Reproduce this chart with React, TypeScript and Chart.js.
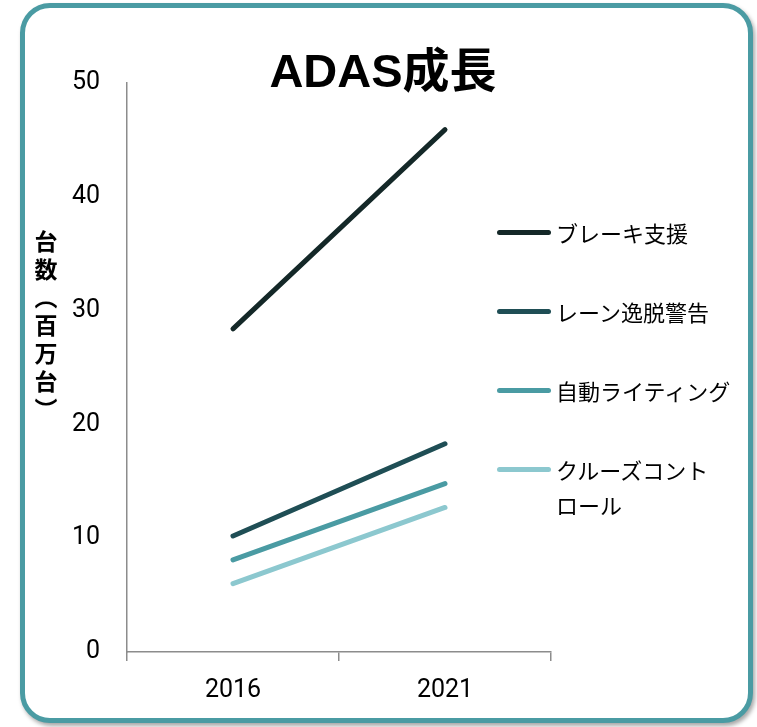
import React, { useEffect, useRef } from "react";
import { Chart, registerables } from "chart.js";

Chart.register(...registerables);

const categories = ["2016", "2021"];
const seriesNames = ["ブレーキ支援", "レーン逸脱警告", "自動ライティング", "クルーズコントロール"];
const brakeAssist = [28.4, 45.9];
const laneDeparture = [10.2, 18.3];
const autoLighting = [8.1, 14.8];
const cruiseControl = [6.0, 12.7];
const yTicks = [0, 10, 20, 30, 40, 50];
const colors = ["#142828", "#1f4e55", "#4a9ba3", "#8cc8cf"];
const legendLines = [["ブレーキ支援"], ["レーン逸脱警告"], ["自動ライティング"], ["クルーズコント", "ロール"]];
const titleText = "ADAS成長";
const yTitle = "台数（百万台）";

const AXIS = "#8c8c8c";
const TICK_FONT = "Roboto, 'Noto Sans', sans-serif";
const CJK_FONT = "'Noto Sans CJK JP', 'Noto Sans', sans-serif";

export default function App() {
  const ref = useRef<HTMLCanvasElement | null>(null);

  useEffect(() => {
    if (!ref.current) return;
    const values = [brakeAssist, laneDeparture, autoLighting, cruiseControl];
    const chart = new Chart(ref.current, {
      type: "line",
      data: {
        labels: categories,
        datasets: seriesNames.map((n, i) => ({
          label: n,
          data: values[i],
          borderColor: colors[i],
          backgroundColor: colors[i],
          borderWidth: 5,
          borderCapStyle: "round" as const,
          pointRadius: 0,
          pointHoverRadius: 0,
          fill: false,
          tension: 0,
        })),
      },
      options: {
        animation: false,
        responsive: false,
        events: [],
        layout: { padding: { top: 83, right: 206, left: 0, bottom: 0 } },
        plugins: {
          legend: { display: false },
          title: { display: false },
          tooltip: { enabled: false },
        },
        scales: {
          x: {
            offset: true,
            grid: {
              display: true,
              offset: true,
              drawOnChartArea: false,
              drawTicks: true,
              tickLength: 9,
              color: AXIS,
              lineWidth: 1.5,
            },
            border: { display: true, color: AXIS, width: 1.5 },
            ticks: {
              color: "#000",
              font: { family: TICK_FONT, size: 25 },
              padding: 15,
              maxRotation: 0,
            },
            afterFit: (s: any) => {
              s.height = 75;
            },
          },
          y: {
            min: yTicks[0],
            max: yTicks[yTicks.length - 1],
            grid: { display: false, drawTicks: false },
            border: { display: true, color: AXIS, width: 1.5 },
            ticks: {
              stepSize: yTicks[1] - yTicks[0],
              color: "#000",
              font: { family: TICK_FONT, size: 25 },
              padding: 27,
            },
            afterFit: (s: any) => {
              s.width = 127;
            },
          },
        },
      },
    });
    return () => chart.destroy();
  }, []);

  return (
    <div style={{ position: "absolute", left: 0, top: 0, width: 757, height: 727, background: "#fff" }}>
      <div
        style={{
          position: "absolute",
          left: 20,
          top: 3,
          width: 733,
          height: 720,
          boxSizing: "border-box",
          border: "5px solid #4a9ba3",
          borderRadius: 30,
          boxShadow: "2px 3px 4px rgba(0,0,0,0.35)",
          background: "#fff",
        }}
      />
      <canvas ref={ref} width={757} height={727} style={{ position: "absolute", left: 0, top: 0 }} />
      <div
        style={{
          position: "absolute",
          left: 183,
          width: 400,
          top: 41,
          textAlign: "center",
          fontFamily: "'Liberation Sans', Arial, 'Noto Sans CJK JP', sans-serif",
          fontWeight: 700,
          fontSize: 47,
          lineHeight: "60px",
          color: "#000",
        }}
      >
        {titleText}
      </div>
      <div
        style={{
          position: "absolute",
          left: 32,
          top: 230,
          writingMode: "vertical-rl",
          fontFamily: CJK_FONT,
          fontWeight: 700,
          fontSize: 23,
          lineHeight: "28px",
          letterSpacing: 5,
          color: "#000",
        }}
      >
        {yTitle}
      </div>
      {legendLines.map((lines, i) => (
        <div key={i} style={{ position: "absolute", left: 497, top: 215 + i * 79 }}>
          <div
            style={{
              position: "absolute",
              left: 0,
              top: 15,
              width: 54,
              height: 5,
              borderRadius: 3,
              background: colors[i],
            }}
          />
          <div
            style={{
              position: "absolute",
              left: 59,
              top: 0,
              width: 160,
              fontFamily: CJK_FONT,
              fontSize: 22,
              lineHeight: "35px",
              color: "#000",
              whiteSpace: "nowrap",
            }}
          >
            {lines.map((l, j) => (
              <div key={j}>{l}</div>
            ))}
          </div>
        </div>
      ))}
    </div>
  );
}
